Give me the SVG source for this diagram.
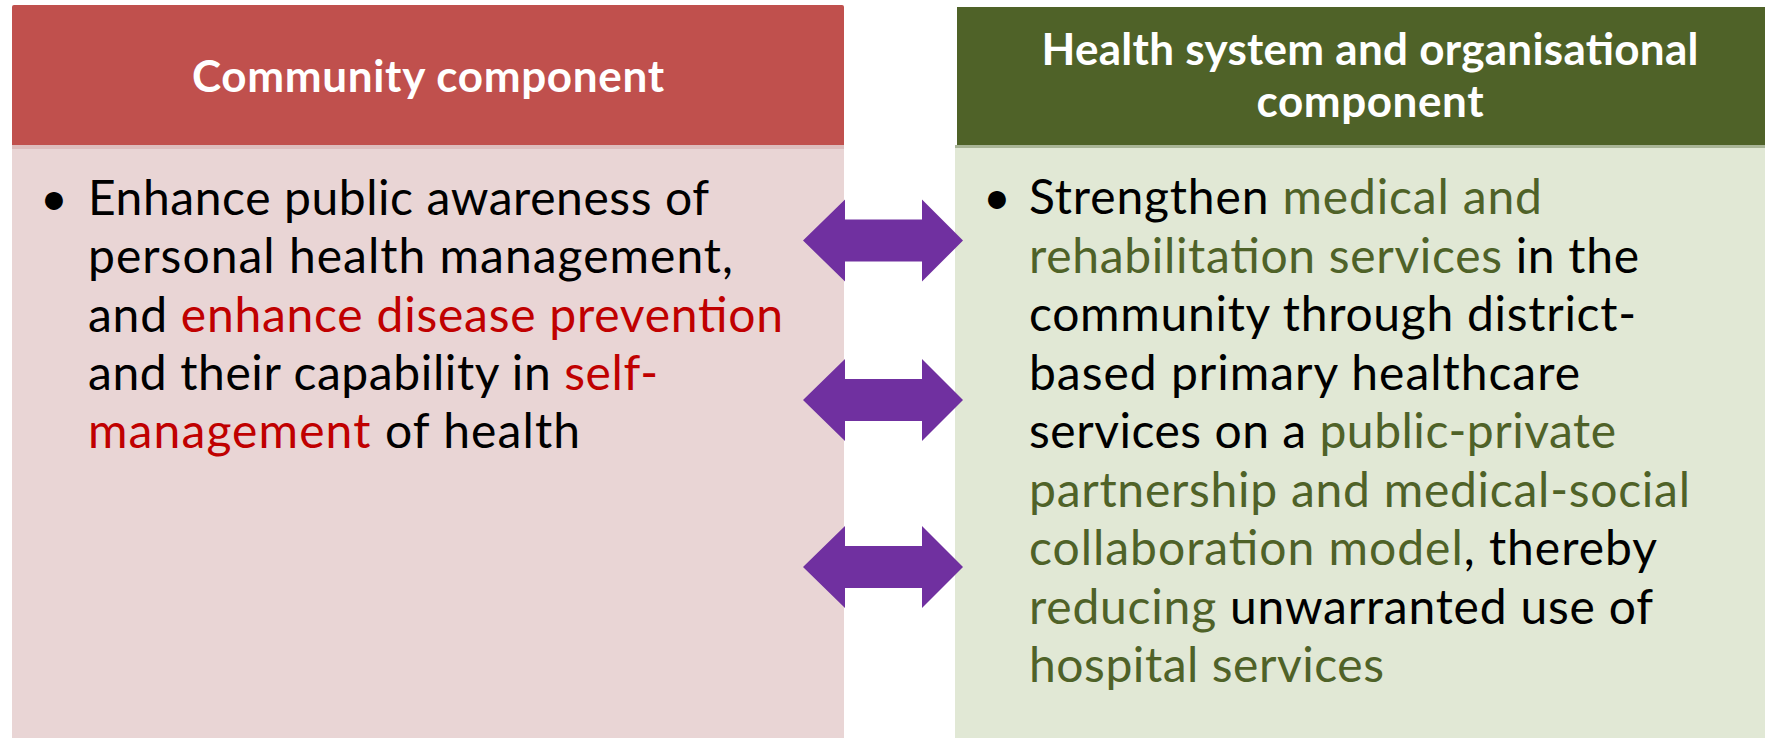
<svg xmlns="http://www.w3.org/2000/svg" width="1765" height="738" viewBox="0 0 1765 738">
<style>
.hdr{font-family:Lato,"Liberation Sans",sans-serif;font-weight:bold;font-size:44px;fill:#FFFFFF;text-anchor:middle}
.body{font-family:Lato,"Liberation Sans",sans-serif;font-size:48px;fill:#000000}
.red{fill:#C00000}
.grn{fill:#4F6228}
.arrow{fill:#7030A0}
</style>
<rect width="1765" height="738" fill="#FFFFFF"/>
<g id="community">
<rect x="12" y="147" width="832" height="591" fill="#E9D5D5"/>
<rect x="12" y="5" width="832" height="142" rx="2" fill="#C0504D"/>
<rect x="12" y="145" width="832" height="4" fill="#DDBDBD"/>
<text class="hdr" x="428" y="92" textLength="472">Community component</text>
<text class="body" x="40" y="215">•</text>
<text class="body" x="88" y="215" textLength="621">Enhance public awareness of</text>
<text class="body" x="88" y="273" textLength="645">personal health management,</text>
<text class="body" x="88" y="332" textLength="695">and <tspan class="red">enhance disease prevention</tspan></text>
<text class="body" x="88" y="390" textLength="570">and their capability in <tspan class="red">self-</tspan></text>
<text class="body" x="88" y="448" textLength="492"><tspan class="red">management</tspan> of health</text>
</g>
<g id="health-system">
<rect x="955" y="148" width="810" height="590" fill="#E1E8D5"/>
<rect x="957" y="7" width="808" height="140" fill="#4F6228"/>
<rect x="955" y="145" width="810" height="3" fill="#A9B597"/>
<text class="hdr" x="1370" y="65" textLength="657">Health system and organisational</text>
<text class="hdr" x="1370" y="117" textLength="227">component</text>
<text class="body" x="983" y="214">•</text>
<text class="body" x="1029" y="214" textLength="513">Strengthen <tspan class="grn">medical and</tspan></text>
<text class="body" x="1029" y="273" textLength="610"><tspan class="grn">rehabilitation services</tspan> in the</text>
<text class="body" x="1029" y="331" textLength="607">community through district-</text>
<text class="body" x="1029" y="390" textLength="551">based primary healthcare</text>
<text class="body" x="1029" y="448" textLength="587">services on a <tspan class="grn">public-private</tspan></text>
<text class="body" x="1029" y="507" textLength="661"><tspan class="grn">partnership and medical-social</tspan></text>
<text class="body" x="1029" y="565" textLength="628"><tspan class="grn">collaboration model</tspan>, thereby</text>
<text class="body" x="1029" y="624" textLength="624"><tspan class="grn">reducing</tspan> unwarranted use of</text>
<text class="body" x="1029" y="682" textLength="355"><tspan class="grn">hospital services</tspan></text>
</g>
<g id="connectors">
<polygon class="arrow" points="803,240.5 845,199.5 845,219.5 922,219.5 922,199.5 963,240.5 922,281.5 922,261.5 845,261.5 845,281.5"/>
<polygon class="arrow" points="803,400 845,359 845,379 922,379 922,359 963,400 922,441 922,421 845,421 845,441"/>
<polygon class="arrow" points="803,567 845,526 845,546 922,546 922,526 963,567 922,608 922,588 845,588 845,608"/>
</g>
</svg>
